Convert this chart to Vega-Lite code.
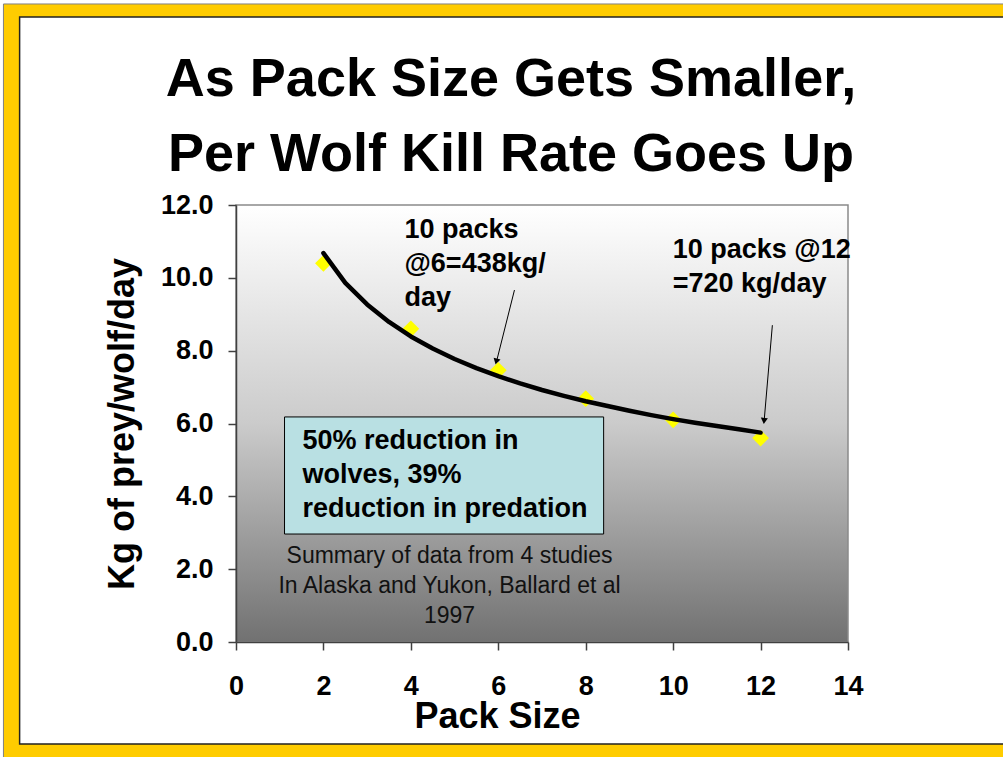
{
  "$schema": "https://vega.github.io/schema/vega-lite/v6.json",
  "width": 612,
  "height": 437,
  "autosize": {"type": "none"},
  "padding": {"left": 236, "top": 205, "right": 155, "bottom": 115},
  "background": "#ffffff",
  "title": {
    "text": ["As Pack Size Gets Smaller,", "Per Wolf Kill Rate Goes Up"],
    "font": "Liberation Sans",
    "fontWeight": "bold",
    "fontSize": 54,
    "lineHeight": 75,
    "color": "#000000",
    "anchor": "middle",
    "frame": "group",
    "dx": -31,
    "offset": -179,
    "zindex": 1
  },
  "config": {
    "view": {"stroke": null},
    "font": "Liberation Sans",
    "axis": {
      "grid": false,
      "labelFont": "Liberation Sans",
      "labelFontWeight": "bold",
      "labelFontSize": 27,
      "labelColor": "#000000",
      "titleFont": "Liberation Sans",
      "titleFontWeight": "bold",
      "titleColor": "#000000",
      "domainColor": "#404040",
      "domainWidth": 1.5,
      "tickColor": "#404040",
      "tickWidth": 1.5,
      "tickSize": 8
    }
  },
  "datasets": {
    "points": [
      {"pack": 2, "kg": 10.4},
      {"pack": 4, "kg": 8.6},
      {"pack": 6, "kg": 7.46},
      {"pack": 8, "kg": 6.68},
      {"pack": 10, "kg": 6.1},
      {"pack": 12, "kg": 5.6}
    ],
    "trend": [
      {"pack": 2, "kg": 10.68},
      {"pack": 2.5, "kg": 9.86},
      {"pack": 3, "kg": 9.27},
      {"pack": 3.5, "kg": 8.79},
      {"pack": 4, "kg": 8.39},
      {"pack": 4.5, "kg": 8.06},
      {"pack": 5, "kg": 7.77},
      {"pack": 5.5, "kg": 7.52},
      {"pack": 6, "kg": 7.3},
      {"pack": 6.5, "kg": 7.1},
      {"pack": 7, "kg": 6.92},
      {"pack": 7.5, "kg": 6.76},
      {"pack": 8, "kg": 6.61},
      {"pack": 8.5, "kg": 6.48},
      {"pack": 9, "kg": 6.35},
      {"pack": 9.5, "kg": 6.23},
      {"pack": 10, "kg": 6.12},
      {"pack": 10.5, "kg": 6.02},
      {"pack": 11, "kg": 5.93},
      {"pack": 11.5, "kg": 5.84},
      {"pack": 12, "kg": 5.75}
    ]
  },
  "layer": [
    {
      "data": {"values": [{}]},
      "mark": {"type": "rect", "fill": "#FFCC00", "stroke": "#808080", "strokeWidth": 1},
      "encoding": {
        "x": {"datum": -5.32, "type": "quantitative", "scale": {"domain": [0, 14], "nice": false, "zero": false}},
        "x2": {"datum": 17.9},
        "y": {"datum": 17.52, "type": "quantitative", "scale": {"domain": [0, 12], "nice": false, "zero": false}},
        "y2": {"datum": -3.4}
      }
    },
    {
      "data": {"values": [{}]},
      "mark": {"type": "rect", "fill": "#ffffff", "stroke": "#222222", "strokeWidth": 1.5},
      "encoding": {
        "x": {"datum": -4.95, "type": "quantitative", "scale": {"domain": [0, 14], "nice": false, "zero": false}},
        "x2": {"datum": 17.8},
        "y": {"datum": 17.16, "type": "quantitative", "scale": {"domain": [0, 12], "nice": false, "zero": false}},
        "y2": {"datum": -2.8}
      }
    },
    {
      "data": {"values": [{}]},
      "mark": {
        "type": "rect",
        "stroke": "#8a8a8a",
        "strokeWidth": 1.5,
        "fill": {
          "gradient": "linear",
          "x1": 0, "y1": 0, "x2": 0, "y2": 1,
          "stops": [
            {"offset": 0, "color": "#ffffff"},
            {"offset": 0.5, "color": "#cbcbcb"},
            {"offset": 1, "color": "#717171"}
          ]
        }
      },
      "encoding": {
        "x": {"datum": 0, "type": "quantitative", "scale": {"domain": [0, 14], "nice": false, "zero": false}},
        "x2": {"datum": 14},
        "y": {"datum": 0, "type": "quantitative", "scale": {"domain": [0, 12], "nice": false, "zero": false}},
        "y2": {"datum": 12}
      }
    },
    {
      "data": {"values": [{}]},
      "mark": {"type": "rect", "fill": "#B9E0E3", "stroke": "#000000", "strokeWidth": 1},
      "encoding": {
        "x": {"datum": 1.11, "type": "quantitative", "scale": {"domain": [0, 14], "nice": false, "zero": false}},
        "x2": {"datum": 8.41},
        "y": {"datum": 2.965, "type": "quantitative", "scale": {"domain": [0, 12], "nice": false, "zero": false}},
        "y2": {"datum": 6.18}
      }
    },
    {
      "data": {"values": [
        {"x": 1.52, "y": 5.3, "label": ["50% reduction in", "wolves, 39%", "reduction in predation"]}
      ]},
      "mark": {"type": "text", "align": "left", "baseline": "alphabetic", "font": "Liberation Sans", "fontWeight": "bold", "fontSize": 27, "lineHeight": 34, "color": "#000000"},
      "encoding": {
        "x": {"field": "x", "type": "quantitative", "scale": {"domain": [0, 14], "nice": false, "zero": false}},
        "y": {"field": "y", "type": "quantitative", "scale": {"domain": [0, 12], "nice": false, "zero": false}},
        "text": {"field": "label"}
      }
    },
    {
      "data": {"values": [
        {"x": 3.855, "y": 11.09, "label": ["10 packs", "@6=438kg/", "day"]},
        {"x": 9.99, "y": 10.54, "label": ["10 packs @12", "=720 kg/day"]}
      ]},
      "mark": {"type": "text", "align": "left", "baseline": "alphabetic", "font": "Liberation Sans", "fontWeight": "bold", "fontSize": 27, "lineHeight": 34, "color": "#000000"},
      "encoding": {
        "x": {"field": "x", "type": "quantitative", "scale": {"domain": [0, 14], "nice": false, "zero": false}},
        "y": {"field": "y", "type": "quantitative", "scale": {"domain": [0, 12], "nice": false, "zero": false}},
        "text": {"field": "label"}
      }
    },
    {
      "data": {"values": [
        {"x": 4.885, "y": 2.17, "label": ["Summary of data from 4 studies", "In Alaska and Yukon, Ballard et al", "1997"]}
      ]},
      "mark": {"type": "text", "align": "center", "baseline": "alphabetic", "font": "Liberation Sans", "fontSize": 23, "lineHeight": 30, "color": "#111111"},
      "encoding": {
        "x": {"field": "x", "type": "quantitative", "scale": {"domain": [0, 14], "nice": false, "zero": false}},
        "y": {"field": "y", "type": "quantitative", "scale": {"domain": [0, 12], "nice": false, "zero": false}},
        "text": {"field": "label"}
      }
    },
    {
      "data": {"values": [
        {"x": 6.37, "y": 9.665, "x2": 5.955, "y2": 7.68},
        {"x": 12.27, "y": 8.7, "x2": 12.08, "y2": 6.05}
      ]},
      "mark": {"type": "rule", "color": "#000000", "strokeWidth": 1},
      "encoding": {
        "x": {"field": "x", "type": "quantitative", "scale": {"domain": [0, 14], "nice": false, "zero": false}},
        "y": {"field": "y", "type": "quantitative", "scale": {"domain": [0, 12], "nice": false, "zero": false}},
        "x2": {"field": "x2"},
        "y2": {"field": "y2"}
      }
    },
    {
      "data": {"values": [{"x": 5.955, "y": 7.7}]},
      "mark": {"type": "point", "shape": "triangle-down", "filled": true, "color": "#000000", "opacity": 1, "size": 50, "angle": 14},
      "encoding": {
        "x": {"field": "x", "type": "quantitative", "scale": {"domain": [0, 14], "nice": false, "zero": false}},
        "y": {"field": "y", "type": "quantitative", "scale": {"domain": [0, 12], "nice": false, "zero": false}}
      }
    },
    {
      "data": {"values": [{"x": 12.08, "y": 6.07}]},
      "mark": {"type": "point", "shape": "triangle-down", "filled": true, "color": "#000000", "opacity": 1, "size": 50, "angle": 5},
      "encoding": {
        "x": {"field": "x", "type": "quantitative", "scale": {"domain": [0, 14], "nice": false, "zero": false}},
        "y": {"field": "y", "type": "quantitative", "scale": {"domain": [0, 12], "nice": false, "zero": false}}
      }
    },
    {
      "data": {"name": "points"},
      "mark": {"type": "point", "shape": "diamond", "filled": true, "color": "#FFFF00", "opacity": 1, "size": 280},
      "encoding": {
        "x": {"field": "pack", "type": "quantitative", "scale": {"domain": [0, 14], "nice": false, "zero": false},
              "axis": {"title": "Pack Size", "zindex": 2, "values": [0, 2, 4, 6, 8, 10, 12, 14], "labelPadding": 23, "titleFontSize": 36, "titlePadding": 0, "titleX": 261, "labelFlush": false}},
        "y": {"field": "kg", "type": "quantitative", "scale": {"domain": [0, 12], "nice": false, "zero": false},
              "axis": {"title": "Kg of prey/wolf/day", "zindex": 2, "values": [0, 2, 4, 6, 8, 10, 12], "format": ".1f", "labelPadding": 15, "titleFontSize": 36, "titlePadding": 19}}
      }
    },
    {
      "data": {"name": "trend"},
      "mark": {"type": "line", "color": "#000000", "strokeWidth": 4.5, "strokeCap": "round", "strokeJoin": "round"},
      "encoding": {
        "x": {"field": "pack", "type": "quantitative", "scale": {"domain": [0, 14], "nice": false, "zero": false}},
        "y": {"field": "kg", "type": "quantitative", "scale": {"domain": [0, 12], "nice": false, "zero": false}}
      }
    }
  ]
}
